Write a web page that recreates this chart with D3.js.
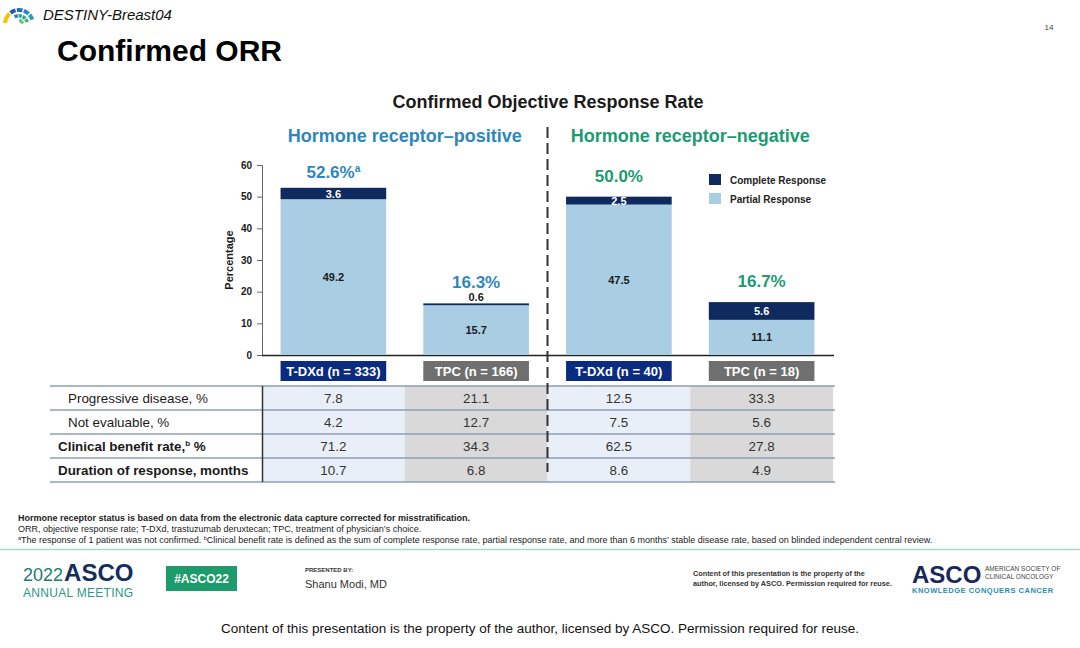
<!DOCTYPE html>
<html>
<head>
<meta charset="utf-8">
<script src="https://cdn.jsdelivr.net/npm/d3@7"></script>
<style>
  html, body { margin: 0; padding: 0; background: #fff; }
  svg { display: block; font-family: "Liberation Sans", Arial, Helvetica, sans-serif; }
</style>
</head>
<body>
<svg id="chart" width="1080" height="648"></svg>
<script>
// ---------- data ----------
const groups = ["Hormone receptor–positive", "Hormone receptor–negative"];
const arms = ["T-DXd (n = 333)", "TPC (n = 166)", "T-DXd (n = 40)", "TPC (n = 18)"];
const armType = ["tdxd", "tpc", "tdxd", "tpc"];
const partialResponse = [49.2, 15.7, 47.5, 11.1];
const completeResponse = [3.6, 0.6, 2.5, 5.6];
const orrLabels = ["52.6%", "16.3%", "50.0%", "16.7%"];
const orrSup = ["a", "", "", ""];
const yTicks = [0, 10, 20, 30, 40, 50, 60];
const legendLabels = ["Complete Response", "Partial Response"];
const rowLabels = ["Progressive disease, %", "Not evaluable, %", "Clinical benefit rate,", "Duration of response, months"];
const progressiveDisease = [7.8, 21.1, 12.5, 33.3];
const notEvaluable = [4.2, 12.7, 7.5, 5.6];
const clinicalBenefit = [71.2, 34.3, 62.5, 27.8];
const durationResponse = [10.7, 6.8, 8.6, 4.9];
const footnotes = [
  "Hormone receptor status is based on data from the electronic data capture corrected for misstratification.",
  "ORR, objective response rate; T-DXd, trastuzumab deruxtecan; TPC, treatment of physician’s choice."
];

// ---------- setup ----------
const svg = d3.select("#chart");
const C = {
  complete: "#0e2a5e", partial: "#a9cde3", blue: "#2e86bf", green: "#1d9a72",
  navyBox: "#0b2b80", grayBox: "#6f6f6f", cellBlue: "#e9eff8", cellGray: "#d9d9d9",
  rule: "#8e9cb3", text: "#1a1a1a"
};

const x = d3.scaleBand().domain(arms).range([262, 833]).paddingInner(0.26).paddingOuter(0.13);
const y = d3.scaleLinear().domain([0, 60]).range([355, 165]);
const step = x.step();
const cellX0 = d => x(d) - step * 0.13;

// ---------- header ----------
const logo = svg.append("g").attr("transform", "translate(19,24)");
const arcGen = d3.arc();
const logoSegs = [
  {r0: 12, r1: 16, a0: -1.5, a1: -0.75, c: "#f2c500"},
  {r0: 12, r1: 16, a0: -0.65, a1: -0.25, c: "#1f5fa8"},
  {r0: 12, r1: 16, a0: -0.15, a1: 0.25, c: "#1f6fb8"},
  {r0: 12, r1: 16, a0: 0.35, a1: 0.75, c: "#2b86c8"},
  {r0: 12, r1: 16, a0: 0.85, a1: 1.25, c: "#2e9fb0"},
  {r0: 6.5, r1: 10, a0: -0.55, a1: -0.15, c: "#2b7fc0"},
  {r0: 6.5, r1: 10, a0: -0.05, a1: 0.35, c: "#2a9fb0"},
  {r0: 6.5, r1: 10, a0: 0.45, a1: 0.85, c: "#33aa88"},
  {r0: 6.5, r1: 10, a0: 0.95, a1: 1.35, c: "#3cb070"},
  {r0: 2, r1: 5, a0: 0.1, a1: 0.7, c: "#45b565"},
  {r0: 2, r1: 5, a0: 0.8, a1: 1.4, c: "#4db860"}
];
logo.selectAll("path").data(logoSegs).join("path")
  .attr("d", d => arcGen({innerRadius: d.r0, outerRadius: d.r1, startAngle: d.a0, endAngle: d.a1}))
  .attr("fill", d => d.c);
svg.append("text").attr("x", 43).attr("y", 20).attr("font-size", 15).attr("font-style", "italic")
  .attr("fill", "#111").text("DESTINY-Breast04");
svg.append("text").attr("x", 57).attr("y", 61).attr("font-size", 30).attr("font-weight", "bold")
  .attr("fill", "#000").text("Confirmed ORR");
svg.append("text").attr("x", 1049).attr("y", 30).attr("font-size", 8).attr("text-anchor", "middle")
  .attr("fill", "#444").text("14");

// ---------- chart titles ----------
svg.append("text").attr("x", 548).attr("y", 108).attr("text-anchor", "middle")
  .attr("font-size", 18).attr("font-weight", "bold").attr("fill", C.text)
  .text("Confirmed Objective Response Rate");
const groupCenters = [(x(arms[0]) + x(arms[1]) + x.bandwidth()) / 2, (x(arms[2]) + x(arms[3]) + x.bandwidth()) / 2];
svg.selectAll("text.grp").data(groups).join("text").attr("class", "grp")
  .attr("x", (d, i) => groupCenters[i]).attr("y", 142).attr("text-anchor", "middle")
  .attr("font-size", 18).attr("font-weight", "bold")
  .attr("fill", (d, i) => i === 0 ? C.blue : C.green).text(d => d);

// ---------- table backgrounds ----------
const rowTop = 386, rowH = 24;
const tableRows = [progressiveDisease, notEvaluable, clinicalBenefit, durationResponse];
const tbl = svg.append("g");
tbl.selectAll("rect.col").data(arms).join("rect").attr("class", "col")
  .attr("x", d => cellX0(d)).attr("y", rowTop).attr("width", step).attr("height", rowH * 4)
  .attr("fill", (d, i) => armType[i] === "tdxd" ? C.cellBlue : C.cellGray);
tbl.selectAll("line.row").data(d3.range(5)).join("line").attr("class", "row")
  .attr("x1", 50).attr("x2", 835).attr("y1", i => rowTop + i * rowH).attr("y2", i => rowTop + i * rowH)
  .attr("stroke", C.rule).attr("stroke-width", 1.5);
tbl.append("line").attr("x1", 262.5).attr("x2", 262.5).attr("y1", rowTop).attr("y2", rowTop + rowH * 4)
  .attr("stroke", "#333").attr("stroke-width", 1.5);
rowLabels.forEach((lab, r) => {
  const bold = r >= 2;
  const t = tbl.append("text").attr("x", bold ? 58 : 68).attr("y", rowTop + r * rowH + 17)
    .attr("font-size", 13.4).attr("font-weight", bold ? "bold" : "normal").attr("fill", C.text);
  if (r === 2) {
    t.append("tspan").text(lab);
    t.append("tspan").attr("font-size", 8).attr("dy", -5).text("b");
    t.append("tspan").attr("dy", 5).text(" %");
  } else t.text(lab);
  tbl.selectAll(null).data(tableRows[r]).join("text")
    .attr("x", (d, i) => x(arms[i]) + x.bandwidth() / 2).attr("y", rowTop + r * rowH + 17)
    .attr("text-anchor", "middle").attr("font-size", 13.4).attr("fill", "#333").text(d => d.toFixed(1));
});

// ---------- axes ----------
const yAxis = d3.axisLeft(y).tickValues(yTicks).tickSize(5).tickPadding(5);
const ya = svg.append("g").attr("transform", "translate(262,0)").call(yAxis);
ya.select(".domain").attr("stroke", "#666").attr("stroke-width", 1);
ya.selectAll(".tick line").attr("stroke", "#666");
ya.selectAll(".tick text").attr("font-size", 10).attr("font-weight", "bold").attr("fill", C.text)
  .attr("font-family", "'Liberation Sans', Arial, sans-serif");
svg.append("text").attr("transform", "translate(233,260) rotate(-90)").attr("text-anchor", "middle")
  .attr("font-size", 11).attr("font-weight", "bold").attr("fill", C.text).text("Percentage");
svg.append("line").attr("x1", 262).attr("x2", 834).attr("y1", y(0) + 0.5).attr("y2", y(0) + 0.5)
  .attr("stroke", "#222").attr("stroke-width", 1.5);

// ---------- bars ----------
const bars = svg.append("g");
bars.selectAll("rect.pr").data(partialResponse).join("rect").attr("class", "pr")
  .attr("x", (d, i) => x(arms[i])).attr("width", x.bandwidth())
  .attr("y", d => y(d)).attr("height", d => y(0) - y(d)).attr("fill", C.partial);
bars.selectAll("rect.cr").data(completeResponse).join("rect").attr("class", "cr")
  .attr("x", (d, i) => x(arms[i])).attr("width", x.bandwidth())
  .attr("y", (d, i) => y(d + partialResponse[i])).attr("height", (d, i) => y(partialResponse[i]) - y(d + partialResponse[i]))
  .attr("fill", C.complete);
bars.selectAll("text.prl").data(partialResponse).join("text").attr("class", "prl")
  .attr("x", (d, i) => x(arms[i]) + x.bandwidth() / 2).attr("y", d => y(d / 2) + 4)
  .attr("text-anchor", "middle").attr("font-size", 11).attr("font-weight", "bold").attr("fill", C.text)
  .text(d => d.toFixed(1));
bars.selectAll("text.crl").data(completeResponse).join("text").attr("class", "crl")
  .attr("x", (d, i) => x(arms[i]) + x.bandwidth() / 2)
  .attr("y", (d, i) => d < 1.5 ? y(d + partialResponse[i]) - 2 : y(partialResponse[i] + d / 2) + 4)
  .attr("text-anchor", "middle").attr("font-size", 11).attr("font-weight", "bold")
  .attr("fill", d => d < 1.5 ? C.text : "#fff").text(d => d.toFixed(1));
// ORR labels
orrLabels.forEach((lab, i) => {
  const top = y(partialResponse[i] + completeResponse[i]);
  const t = bars.append("text").attr("x", x(arms[i]) + x.bandwidth() / 2)
    .attr("y", top - (i === 0 ? 10 : 15)).attr("text-anchor", "middle")
    .attr("font-size", 17).attr("font-weight", "bold").attr("fill", i < 2 ? C.blue : C.green);
  t.append("tspan").text(lab);
  if (orrSup[i]) t.append("tspan").attr("font-size", 10).attr("dy", -6).text(orrSup[i]);
});

// arm label boxes
const boxes = svg.append("g");
boxes.selectAll("rect").data(arms).join("rect")
  .attr("x", d => x(d)).attr("width", x.bandwidth()).attr("y", 361).attr("height", 20)
  .attr("fill", (d, i) => armType[i] === "tdxd" ? C.navyBox : C.grayBox);
boxes.selectAll("text").data(arms).join("text")
  .attr("x", d => x(d) + x.bandwidth() / 2).attr("y", 376).attr("text-anchor", "middle")
  .attr("font-size", 13).attr("font-weight", "bold").attr("fill", "#fff").text(d => d);

// legend
const lg = svg.append("g");
lg.selectAll("rect").data(legendLabels).join("rect")
  .attr("x", 709).attr("y", (d, i) => 174 + i * 19).attr("width", 12).attr("height", 11)
  .attr("fill", (d, i) => i === 0 ? C.complete : C.partial);
lg.selectAll("text").data(legendLabels).join("text")
  .attr("x", 730).attr("y", (d, i) => 184 + i * 19).attr("font-size", 10).attr("font-weight", "bold")
  .attr("fill", "#222").text(d => d);

// dashed divider
svg.append("line").attr("x1", 547.5).attr("x2", 547.5).attr("y1", 127).attr("y2", 472)
  .attr("stroke", "#333").attr("stroke-width", 2).attr("stroke-dasharray", "11,5");

// ---------- footnotes ----------
svg.append("text").attr("x", 18).attr("y", 521).attr("font-size", 9).attr("font-weight", "bold")
  .attr("fill", "#222").text(footnotes[0]);
svg.append("text").attr("x", 18).attr("y", 532).attr("font-size", 9).attr("fill", "#222").text(footnotes[1]);
const fn3 = svg.append("text").attr("x", 18).attr("y", 543).attr("font-size", 9).attr("fill", "#222");
fn3.append("tspan").attr("font-size", 5.5).attr("dy", -3).text("a");
fn3.append("tspan").attr("dy", 3).text("The response of 1 patient was not confirmed. ");
fn3.append("tspan").attr("font-size", 5.5).attr("dy", -3).text("b");
fn3.append("tspan").attr("dy", 3).text("Clinical benefit rate is defined as the sum of complete response rate, partial response rate, and more than 6 months’ stable disease rate, based on blinded independent central review.");
svg.append("line").attr("x1", 0).attr("x2", 1080).attr("y1", 549.5).attr("y2", 549.5)
  .attr("stroke", "#a9d9cc").attr("stroke-width", 1.5);

// ---------- footer ----------
const ft = svg.append("g");
const asco = ft.append("text").attr("x", 23).attr("y", 581);
asco.append("tspan").attr("font-size", 18).attr("fill", "#1a7f6a").text("2022");
asco.append("tspan").attr("font-size", 24).attr("font-weight", "bold").attr("fill", "#132f5e").attr("dx", 1).text("ASCO");
ft.append("text").attr("x", 23).attr("y", 597).attr("font-size", 12).attr("fill", "#2a9a88")
  .attr("letter-spacing", 0.3).text("ANNUAL MEETING");
ft.append("rect").attr("x", 166).attr("y", 566).attr("width", 71).attr("height", 25).attr("fill", "#1e9b6c");
ft.append("text").attr("x", 201.5).attr("y", 583).attr("text-anchor", "middle").attr("font-size", 12)
  .attr("font-weight", "bold").attr("fill", "#fff").text("#ASCO22");
ft.append("text").attr("x", 305).attr("y", 572).attr("font-size", 6).attr("font-weight", "bold")
  .attr("fill", "#333").text("PRESENTED BY:");
ft.append("text").attr("x", 305).attr("y", 588).attr("font-size", 11).attr("fill", "#333").text("Shanu Modi, MD");
ft.append("text").attr("x", 693).attr("y", 576).attr("font-size", 7.3).attr("font-weight", "bold")
  .attr("fill", "#333").text("Content of this presentation is the property of the");
ft.append("text").attr("x", 693).attr("y", 586).attr("font-size", 7.3).attr("font-weight", "bold")
  .attr("fill", "#333").text("author, licensed by ASCO. Permission required for reuse.");
ft.append("text").attr("x", 912).attr("y", 583).attr("font-size", 24).attr("font-weight", "bold")
  .attr("fill", "#17285a").text("ASCO");
ft.append("text").attr("x", 985).attr("y", 571).attr("font-size", 6.5).attr("fill", "#444").text("AMERICAN SOCIETY OF");
ft.append("text").attr("x", 985).attr("y", 579).attr("font-size", 6.5).attr("fill", "#444").text("CLINICAL ONCOLOGY");
ft.append("text").attr("x", 912).attr("y", 593).attr("font-size", 7.5).attr("font-weight", "bold")
  .attr("fill", "#2a8fb0").attr("letter-spacing", 0.5).text("KNOWLEDGE CONQUERS CANCER");
svg.append("text").attr("x", 540).attr("y", 633).attr("text-anchor", "middle").attr("font-size", 13.5)
  .attr("fill", "#111").text("Content of this presentation is the property of the author, licensed by ASCO. Permission required for reuse.");
</script>
</body>
</html>
